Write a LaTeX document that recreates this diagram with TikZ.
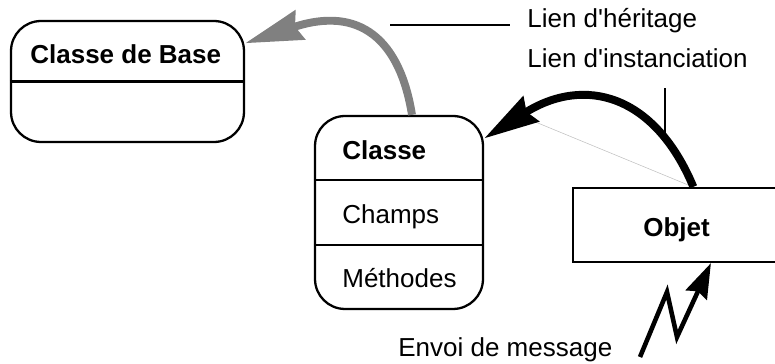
\documentclass[tikz,border=0pt]{standalone}
\usepackage{fontspec}
\setmainfont{Liberation Sans}
\usetikzlibrary{arrows.meta, calc}

\begin{document}
\begin{tikzpicture}[x=0.02cm, y=-0.02cm,
  txt/.style={font=\fontsize{14.8}{17}\selectfont, inner sep=0pt, anchor=base west},
  titre/.style={txt, font=\fontsize{14.8}{17}\selectfont\bfseries},
  classbox/.style={draw, line width=1.3pt, rounded corners=0.6cm, inner sep=0pt},
  leader/.style={line width=1.1pt},
  herlink/.style={gray, line width=4.5pt, -{Stealth[length=1.15cm, width=0.6cm, inset=0.1cm]}},
  instlink/.style={line width=4.5pt, -{Stealth[length=1.1cm, width=0.58cm, inset=0.1cm]}},
  msglink/.style={line width=2.6pt, line join=miter, -{Stealth[length=0.7cm, width=0.46cm, inset=0.08cm]}}]
  \useasboundingbox (0,0) rectangle (775,364);

  % Classe de base
  \node[classbox, minimum width=4.66cm, minimum height=2.42cm] (base) at (127.5,81.5) {};
  \draw[line width=1.3pt] (base.west) -- (base.east);
  \node[titre] (baseTitre) at (30,64) {Classe de Base};

  % Classe
  \node[classbox, minimum width=3.36cm, minimum height=3.86cm] (classe) at (399,212.5) {};
  \draw[line width=1.3pt] ($(classe.north west)!1/3!(classe.south west)$) -- ($(classe.north east)!1/3!(classe.south east)$);
  \draw[line width=1.3pt] ($(classe.north west)!2/3!(classe.south west)$) -- ($(classe.north east)!2/3!(classe.south east)$);
  \node[titre] (classeTitre) at (342,160) {Classe};
  \node[txt] (champs) at (342,224) {Champs};
  \node[txt] (methodes) at (342,288) {Méthodes};

  % Objet (ouvert a droite)
  \node[draw, line width=1.3pt, minimum width=4.6cm, minimum height=1.48cm] (objet) at (688,225) {};
  \node[titre, anchor=base] (objetTitre) at (676.5,237) {Objet};

  % Liens
  \draw[herlink] ([xshift=0.26cm]classe.north) .. controls (400,40) and (360,5) .. (base.18);
  \coordinate (corde) at (533,121);
  \draw[gray!50, line width=0.3pt] (objet.83) -- (corde);
  \draw[instlink] (objet.82) .. controls (655,95) and (585,75) .. (classe.41);

  % Envoi de message
  \coordinate (msg) at (640,357);
  \draw[msglink] (msg) -- (667,292) -- (677,337) -- (objet.-59);

  % Legendes
  \node[txt] (heritage) at (527,28) {Lien d\textquotesingle héritage};
  \node[txt] (instance) at (527,68) {Lien d\textquotesingle instanciation};
  \node[txt] (envoi) at (398,357) {Envoi de message};
  \coordinate (herDebut) at (390,25);
  \draw[leader, shorten >=0.34cm] (herDebut) -- (herDebut -| heritage.west);
  \coordinate (instFin) at (665,138);
  \draw[leader, shorten >=0.38cm] (instFin) -- (instFin |- instance.south);
\end{tikzpicture}
\end{document}
